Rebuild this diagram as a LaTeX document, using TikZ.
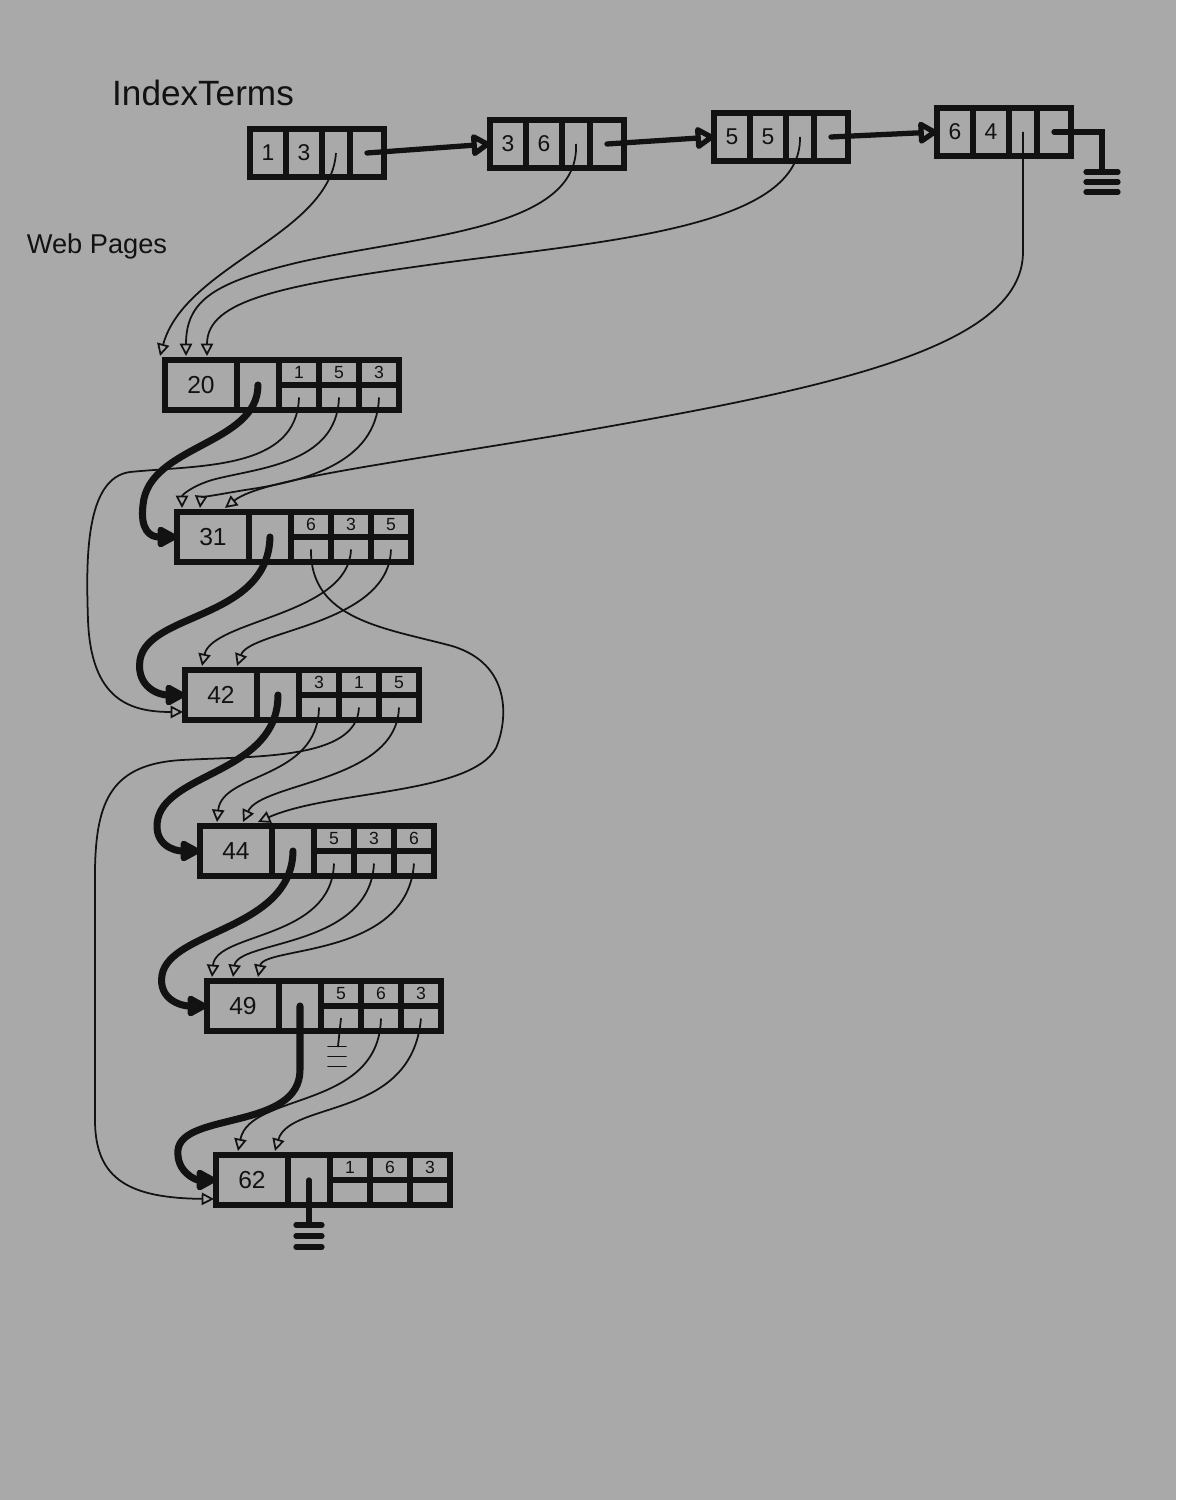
\documentclass[tikz,border=0pt]{standalone}
\usepackage{fontspec}
\setmainfont{Liberation Sans}
\usetikzlibrary{arrows.meta, calc}
\definecolor{paper}{RGB}{169,169,169}
\definecolor{ink}{RGB}{18,18,18}

\begin{document}
\begin{tikzpicture}[
  x=0.02cm, y=-0.02cm,
  tcell/.style={
    draw=ink, line width=3.4pt, minimum height=0.96cm,
    inner sep=0pt, outer sep=0pt, anchor=north west,
    text=ink, font=\fontsize{13}{15}\selectfont
  },
  pcell/.style={tcell, minimum height=1.0cm, font=\fontsize{14}{16}\selectfont},
  gcell/.style={tcell, minimum width=0.8cm, minimum height=0.5cm, font=\fontsize{10}{12}\selectfont},
  lbl/.style={text=ink, font=\fontsize{20}{24}\selectfont},
  listptr/.style={draw=ink, line width=1pt, -{Triangle[open, length=7pt, width=7pt]}},
  nextptr/.style={draw=ink, line width=4pt, line cap=round, -{Triangle[round, length=13pt, width=13pt]}},
  termptr/.style={draw=ink, line width=3pt, line cap=round, -{Triangle[open, round, length=12pt, width=14pt]}},
  gndline/.style={draw=ink, line width=3pt, line cap=round},
  gndthin/.style={draw=ink, line width=1pt, line cap=round},
]
  \useasboundingbox (0,0) rectangle (1176,1500);
  \fill[paper] (0,0) rectangle (1176,1500);

  % term record: id | count | page list | next term
  \def\termrec#1#2#3#4{%
    \node[tcell, minimum width=0.72cm] (#1-id) at #2 {#3};
    \node[tcell, minimum width=0.72cm] (#1-cnt) at (#1-id.north east) {#4};
    \node[tcell, minimum width=0.56cm] (#1-list) at (#1-cnt.north east) {};
    \node[tcell, minimum width=0.68cm] (#1-next) at (#1-list.north east) {};
  }
  % page record: id | next page | three term slots (term on top, pointer below)
  \def\pagerec#1#2#3#4#5#6{%
    \node[pcell, minimum width=1.44cm] (#1-id) at #2 {#3};
    \node[pcell, minimum width=0.84cm] (#1-n) at (#1-id.north east) {};
    \node[gcell] (#1-a) at (#1-n.north east) {#4};
    \node[gcell] (#1-ap) at (#1-a.south west) {};
    \node[gcell] (#1-b) at (#1-a.north east) {#5};
    \node[gcell] (#1-bp) at (#1-b.south west) {};
    \node[gcell] (#1-c) at (#1-b.north east) {#6};
    \node[gcell] (#1-cp) at (#1-c.south west) {};
  }

  % --- Labels ---
  \node[lbl] (lbl-terms) at (203,93) {IndexTerms};
  \node[lbl, font=\fontsize{15.5}{19}\selectfont] (lbl-pages) at (97,246) {Web Pages};

  % --- Index terms ---
  \termrec{t1}{(250,129)}{1}{3}
  \termrec{t3}{(490,120)}{3}{6}
  \termrec{t5}{(714,113)}{5}{5}
  \termrec{t6}{(937,108)}{6}{4}

  % --- Web pages ---
  \pagerec{p20}{(165,360)}{20}{1}{5}{3}
  \pagerec{p31}{(177,512)}{31}{6}{3}{5}
  \pagerec{p42}{(185,670)}{42}{3}{1}{5}
  \pagerec{p44}{(200,826)}{44}{5}{3}{6}
  \pagerec{p49}{(207,981)}{49}{5}{6}{3}
  \pagerec{p62}{(216,1155)}{62}{1}{6}{3}

  % --- Term chain ---
  \draw[termptr] (t1-next.center) -- (t3-id.west);
  \draw[termptr] (t3-next.center) -- (t5-id.west);
  \draw[termptr] (t5-next.center) -- (t6-id.west);
  \coordinate (t6-gnd) at (1102,172);
  \draw[gndline] (t6-next.center) -| (t6-gnd);
  \foreach \dy in {0,10,20}
    \draw[gndline] ($(t6-gnd)+(-16,\dy)$) -- ++(32,0);

  % --- Term -> first page ---
  \draw[listptr] (t1-list.center) .. controls (330,235) and (185,265) .. ($(p20-id.north west)+(-5,-4)$);
  \draw[listptr] (t3-list.center) .. controls (580,230) and (420,235) .. (300,262)
    .. controls (215,282) and (186,300) .. ($(p20-id.north west)+(21,-4)$);
  \draw[listptr] (t5-list.center) .. controls (802,225) and (620,240) .. (450,262)
    .. controls (280,285) and (207,300) .. ($(p20-id.north west)+(42,-4)$);
  \draw[listptr] (t6-list.center) -- ++(0,120) .. controls (1023,350) and (820,390) .. (560,435)
    .. controls (380,465) and (260,480) .. ($(p31-id.north west)+(48,-4)$);

  % --- Next page chain ---
  \draw[nextptr] (p20-n.center) .. controls (258,445) and (148,445) .. (143,505)
    .. controls (140,530) and (150,537) .. (p31-id.west);
  \draw[nextptr] (p31-n.center) .. controls (268,620) and (148,612) .. (140,660)
    .. controls (136,688) and (160,695) .. (p42-id.west);
  \draw[nextptr] (p42-n.center) .. controls (278,772) and (170,772) .. (158,818)
    .. controls (152,845) and (175,851) .. (p44-id.west);
  \draw[nextptr] (p44-n.center) .. controls (292,930) and (170,930) .. (162,975)
    .. controls (158,1000) and (182,1006) .. (p49-id.west);
  \draw[nextptr] (p49-n.center) -- ++(0,64) .. controls (300,1130) and (182,1112) .. (178,1150)
    .. controls (176,1172) and (196,1180) .. (p62-id.west);
  \coordinate (p62-gnd) at ($(p62-n.center)+(0,45)$);
  \draw[gndline] (p62-n.center) -- (p62-gnd);
  \foreach \dy in {0,11,22}
    \draw[gndline] ($(p62-gnd)+(-13,\dy)$) -- ++(26,0);

  % --- Page 20 slots ---
  \draw[listptr] (p20-ap.center) .. controls (297,470) and (200,465) .. (130,472)
    .. controls (85,478) and (86,560) .. (88,620)
    .. controls (91,700) and (130,712) .. ($(p42-id.south west)+(-2,-8)$);
  \draw[listptr] (p20-bp.center) .. controls (337,465) and (255,468) .. (212,480)
    .. controls (192,486) and (182,495) .. ($(p31-id.north west)+(5,-4)$);
  \draw[listptr] (p20-cp.center) .. controls (377,465) and (300,482) .. (245,490)
    .. controls (215,495) and (201,498) .. ($(p31-id.north west)+(23,-4)$);

  % --- Page 31 slots ---
  \draw[listptr] (p31-ap.center) .. controls (310,620) and (385,628) .. (452,646)
    .. controls (512,664) and (508,720) .. (496,748)
    .. controls (470,795) and (330,790) .. ($(p44-id.north west)+(58,-4)$);
  \draw[listptr] (p31-bp.center) .. controls (349,615) and (212,620) .. ($(p42-id.north west)+(17,-4)$);
  \draw[listptr] (p31-cp.center) .. controls (389,625) and (250,630) .. ($(p42-id.north west)+(52,-4)$);

  % --- Page 42 slots ---
  \draw[listptr] (p42-ap.center) .. controls (318,780) and (222,772) .. ($(p44-id.north west)+(17,-4)$);
  \draw[listptr] (p42-bp.center) .. controls (357,760) and (255,756) .. (182,760)
    .. controls (112,764) and (96,800) .. (95,870) -- (95,1120)
    .. controls (95,1180) and (130,1198) .. ($(p62-id.south west)+(-2,-6)$);
  \draw[listptr] (p42-cp.center) .. controls (397,782) and (262,782) .. ($(p44-id.north west)+(43,-4)$);

  % --- Page 44 slots ---
  \draw[listptr] (p44-ap.center) .. controls (332,940) and (216,932) .. ($(p49-id.north west)+(5,-4)$);
  \draw[listptr] (p44-bp.center) .. controls (370,948) and (238,940) .. ($(p49-id.north west)+(26,-4)$);
  \draw[listptr] (p44-cp.center) .. controls (408,958) and (264,946) .. ($(p49-id.north west)+(51,-4)$);

  % --- Page 49 slots ---
  \coordinate (p49-gnd) at ($(p49-ap.center)+(-3,28)$);
  \draw[gndthin] (p49-ap.center) -- (p49-gnd);
  \foreach \dy in {0,10,20}
    \draw[gndthin] ($(p49-gnd)+(-10,\dy)$) -- ++(18,0);
  \draw[listptr] (p49-bp.center) .. controls (379,1110) and (250,1092) .. ($(p62-id.north west)+(22,-4)$);
  \draw[listptr] (p49-cp.center) .. controls (412,1120) and (290,1100) .. ($(p62-id.north west)+(59,-4)$);

\end{tikzpicture}
\end{document}
